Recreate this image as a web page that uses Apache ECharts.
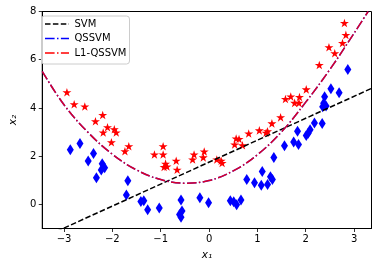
<!DOCTYPE html>
<html>
<head>
<meta charset="utf-8">
<script src="https://cdn.jsdelivr.net/npm/echarts@6/dist/echarts.min.js"></script>
<style>html,body{margin:0;padding:0;background:#fff}#c{width:381px;height:268px}</style>
</head>
<body>
<div id="c"></div>
<script>
// Class +1 (red stars)
const redX = [-2.94,-2.79,-2.57,-2.35,-2.20,-2.10,-2.19,-1.96,-1.92,-2.02,-1.66,-1.74,-1.13,-0.95,-0.95,-0.90,-0.87,-0.93,-0.68,-0.66,-0.31,-0.34,-0.10,-0.12,0.16,0.25,0.27,0.53,0.56,0.62,0.69,0.82,1.04,1.18,1.21,1.30,1.48,1.58,1.69,1.87,1.77,1.86,2.01,2.28,2.48,2.60,2.76,2.83,2.80];
const redY = [4.65,4.15,4.06,3.45,3.71,3.20,2.98,3.12,2.98,2.58,2.41,2.20,2.07,2.41,2.07,1.69,1.57,1.55,1.81,1.44,2.07,1.86,2.19,1.95,1.86,1.81,1.72,2.48,2.73,2.71,2.45,2.94,3.07,2.97,3.03,3.36,3.61,4.37,4.47,4.45,4.21,4.21,4.77,5.78,6.52,6.27,6.69,7.03,7.52];
// Class -1 (blue diamonds)
const blueX = [-2.87,-2.67,-2.50,-2.39,-2.33,-2.21,-2.23,-2.16,-1.68,-1.71,-1.41,-1.35,-1.27,-1.03,-0.58,-0.56,-0.61,-0.58,-0.19,-0.01,0.44,0.51,0.57,0.66,0.78,0.94,1.10,1.08,1.21,1.27,1.31,1.34,1.56,1.75,1.85,1.83,2.01,2.05,2.09,2.18,2.34,2.39,2.37,2.42,2.35,2.52,2.69,2.87];
const blueY = [2.27,2.53,1.80,2.11,1.11,1.69,1.43,1.52,0.98,0.39,0.12,0.15,-0.22,-0.15,0.18,-0.27,-0.42,-0.53,0.28,0.07,0.15,0.11,-0.01,0.18,1.03,0.90,1.36,0.79,0.82,1.15,1.03,1.94,2.43,2.59,2.48,3.03,2.86,2.95,3.10,3.38,3.35,4.46,4.19,4.08,4.05,4.80,4.63,5.59];
// Linear SVM boundary (end points)
const svmX = [-3.45, 3.36];
const svmY = [-1.39, 4.81];
// Quadratic boundaries (QSSVM and L1-QSSVM coincide)
const quadX = [-3.45,-3.0,-2.5,-2.0,-1.5,-1.0,-0.5,0.0,0.5,1.0,1.5,2.0,2.5,3.0,3.29];
const quadY = [5.52,4.13,2.98,2.08,1.43,1.03,0.88,0.99,1.39,2.06,3.01,4.24,5.60,7.10,8.0];
const xTicks = [-3,-2,-1,0,1,2,3];
const yTicks = [0,2,4,6,8];
const legendNames = ['SVM','QSSVM','L1-QSSVM'];

const zip = (a,b) => a.map((v,i)=>[v,b[i]]);
const star = 'path://M0,-100L22.45,-30.9L95.1,-30.9L36.3,11.8L58.8,80.9L0,38.2L-58.8,80.9L-36.3,11.8L-95.1,-30.9L-22.45,-30.9Z';
const font = 'DejaVu Sans';
const dashSVM = [5.5,2.4];
const dashDot = [9.6,2.4,1.5,2.4];

const chart = echarts.init(document.getElementById('c'), null, {renderer:'canvas'});
const axisCommon = {
  type:'value',
  axisLine:{show:true, onZero:false, lineStyle:{color:'#000', width:1}},
  axisTick:{show:true, inside:false, length:3.5, lineStyle:{color:'#000', width:0.8}},
  splitLine:{show:false},
  axisLabel:{color:'#000', fontFamily:font, fontSize:10},
  nameTextStyle:{color:'#000', fontFamily:font, fontSize:10.5, fontStyle:'italic'}
};

// manual legend (matplotlib style)
const lg = {x:41.5, y:16, w:88, h:48, rows:[24, 38.5, 53]};
const legendStyles = [
  {stroke:'#000', lineDash:dashSVM},
  {stroke:'#0000ff', lineDash:dashDot},
  {stroke:'#ff0000', lineDash:dashDot}
];
const graphics = [{type:'rect', shape:{x:lg.x, y:lg.y, width:lg.w, height:lg.h, r:3}, style:{fill:'rgba(255,255,255,0.8)', stroke:'#cccccc', lineWidth:1}, z:10}];
legendNames.forEach((n,i)=>{
  const s = legendStyles[i];
  graphics.push({type:'line', shape:{x1:lg.x+3.5, y1:lg.rows[i], x2:lg.x+27.5, y2:lg.rows[i]}, style:{stroke:s.stroke, lineWidth:1.5, lineDash:s.lineDash}, z:11});
  graphics.push({type:'text', x:lg.x+33, y:lg.rows[i], style:{text:n, fontFamily:font, fontSize:10, fill:'#000', verticalAlign:'middle', align:'left'}, z:11});
});

chart.setOption({
  animation:false,
  backgroundColor:'#fff',
  grid:{left:36, right:9.5, top:11.5, bottom:39.5, show:true, borderColor:'#000', borderWidth:1, backgroundColor:'transparent'},
  xAxis:Object.assign({}, axisCommon, {
    min:-3.45, max:3.36,
    axisTick:Object.assign({}, axisCommon.axisTick, {customValues:xTicks}),
    axisLabel:Object.assign({}, axisCommon.axisLabel, {customValues:xTicks, margin:6, formatter:v=>String(v).replace('-','\u2212')}),
    name:'x\u2081', nameLocation:'middle', nameGap:21
  }),
  yAxis:Object.assign({}, axisCommon, {
    min:-1, max:8,
    axisTick:Object.assign({}, axisCommon.axisTick, {customValues:yTicks}),
    axisLabel:Object.assign({}, axisCommon.axisLabel, {customValues:yTicks, margin:6}),
    name:'x\u2082', nameLocation:'middle', nameGap:20, nameRotate:90
  }),
  graphic:graphics,
  series:[
    {type:'scatter', data:zip(redX,redY), symbol:star, symbolSize:9, symbolKeepAspect:true, itemStyle:{color:'#ff0000', opacity:1}, z:2},
    {type:'scatter', data:zip(blueX,blueY), symbol:'diamond', symbolSize:[7,11], itemStyle:{color:'#0000ff', opacity:1}, z:2},
    {name:legendNames[0], type:'line', data:zip(svmX,svmY), symbol:'none', lineStyle:{color:'#000', width:1.5, type:dashSVM}, z:3},
    {name:legendNames[1], type:'line', data:zip(quadX,quadY), smooth:0.4, symbol:'none', lineStyle:{color:'#0000ff', width:1.5, type:dashDot}, z:3},
    {name:legendNames[2], type:'line', data:zip(quadX,quadY), smooth:0.4, symbol:'none', lineStyle:{color:'#ff0000', width:1.5, type:dashDot, opacity:0.85}, z:4}
  ]
});
</script>
</body>
</html>
